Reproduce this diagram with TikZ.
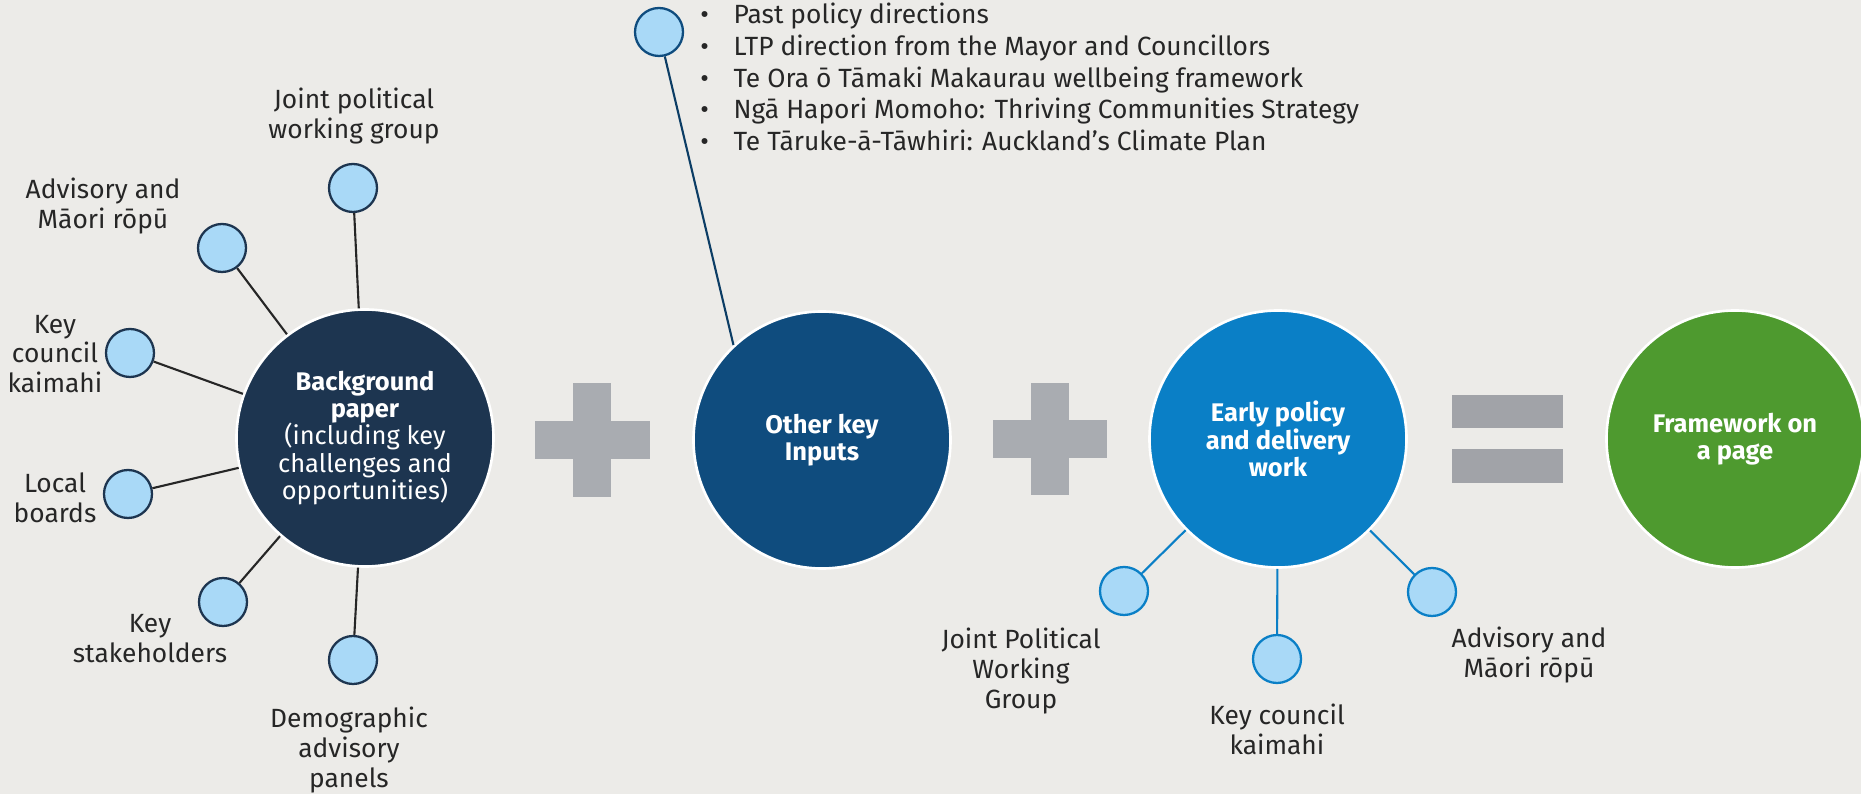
\documentclass[tikz,border=0pt]{standalone}
\usepackage{fontspec}
\setmainfont{Fira Sans}
\usetikzlibrary{positioning}
\definecolor{pagegray}{HTML}{ECEBE8}
\definecolor{bgnavy}{HTML}{1D3550}
\definecolor{inputblue}{HTML}{0F4C7E}
\definecolor{earlyblue}{HTML}{0A7FC6}
\definecolor{pagegreen}{HTML}{4E9A2F}
\definecolor{dotblue}{HTML}{A9D9F7}
\definecolor{signgray}{HTML}{A9ACB1}
\definecolor{inktext}{HTML}{262626}
\tikzset{
  bigcircle/.style={circle, minimum size=5.14cm, inner sep=0pt, draw=white, line width=1.5pt, text=white, align=center, font=\fontsize{14.5}{15.5}\selectfont\bfseries},
  smallcircle/.style={circle, minimum size=0.96cm, inner sep=0pt, fill=dotblue, line width=1.3pt},
  spoke/.style={line width=1.2pt},
  caption/.style={align=center, text=inktext, inner sep=0pt, font=\fontsize{15}{17}\selectfont},
  sign/.style={fill=signgray}
}

\begin{document}
\begin{tikzpicture}[x=0.2mm, y=-0.2mm]
  \fill[pagegray] (0,0) rectangle (1861,794);
  \useasboundingbox (0,0) rectangle (1861,794);
  % plus, plus, equals
  \fill[sign] (535,421) rectangle (650,459);
  \fill[sign] (573,383) rectangle (611,497);
  \fill[sign] (993,420) rectangle (1107,458);
  \fill[sign] (1031,383) rectangle (1069,495);
  \fill[signgray!95!black] (1452,395) rectangle (1563,428);
  \fill[signgray!95!black] (1452,449) rectangle (1563,483);
  % main circles
  \node[bigcircle, fill=bgnavy] (bg) at (365,438) {Background\\paper\\\mdseries(including key\\\mdseries challenges and\\\mdseries opportunities)};
  \node[bigcircle, fill=inputblue] (oth) at (822,440) {Other key\\Inputs};
  \node[bigcircle, fill=earlyblue] (ely) at (1278,439) {Early policy\\and delivery\\work};
  \node[bigcircle, fill=pagegreen] (fwk) at (1735,439) {Framework on\\a page};
  % background paper contributors
  \node[smallcircle, draw=bgnavy] (bjp) at (353,188) {};
  \node[smallcircle, draw=bgnavy] (bad) at (222,248) {};
  \node[smallcircle, draw=bgnavy] (bkc) at (130,353) {};
  \node[smallcircle, draw=bgnavy] (blb) at (128,494) {};
  \node[smallcircle, draw=bgnavy] (bks) at (223,602) {};
  \node[smallcircle, draw=bgnavy] (bdp) at (353,660) {};
  \foreach \s in {bjp,bad,bkc,blb,bks,bdp}
    \draw[spoke, inktext] (\s) -- (bg);
  \node[caption] (ljp) at (354,116) {Joint political\\working group};
  \node[caption] (lad) at (103,206) {Advisory and\\Māori rōpū};
  \node[caption] (lkc) at (55,354) {Key\\council\\kaimahi};
  \node[caption] (llb) at (55,498) {Local\\boards};
  \node[caption] (lks) at (150,639) {Key\\stakeholders};
  \node[caption] (ldp) at (349,750) {Demographic\\advisory\\panels};
  % other key inputs
  \node[smallcircle, draw=inputblue] (oin) at (659,32) {};
  \draw[spoke, inputblue!80!black] (oin) -- (oth.133);
  \node[caption, align=left, anchor=north west, font=\fontsize{15}{18}\selectfont] (list) at (700,3) {%
    \makebox[19pt][l]{\textbullet}Past policy directions\\
    \makebox[19pt][l]{\textbullet}LTP direction from the Mayor and Councillors\\
    \makebox[19pt][l]{\textbullet}Te Ora ō Tāmaki Makaurau wellbeing framework\\
    \makebox[19pt][l]{\textbullet}Ngā Hapori Momoho: Thriving Communities Strategy\\
    \makebox[19pt][l]{\textbullet}Te Tāruke-ā-Tāwhiri: Auckland's Climate Plan};
  % early policy contributors
  \node[smallcircle, draw=earlyblue] (ejp) at (1124,591) {};
  \node[smallcircle, draw=earlyblue] (ekc) at (1277,659) {};
  \node[smallcircle, draw=earlyblue] (ead) at (1432,592) {};
  \foreach \s in {ejp,ekc,ead}
    \draw[spoke, earlyblue] (\s) -- (ely);
  \node[caption] (mjp) at (1021,671) {Joint Political\\Working\\Group};
  \node[caption] (mkc) at (1277,729) {Key council\\kaimahi};
  \node[caption] (mad) at (1529,655) {Advisory and\\Māori rōpū};
\end{tikzpicture}
\end{document}
